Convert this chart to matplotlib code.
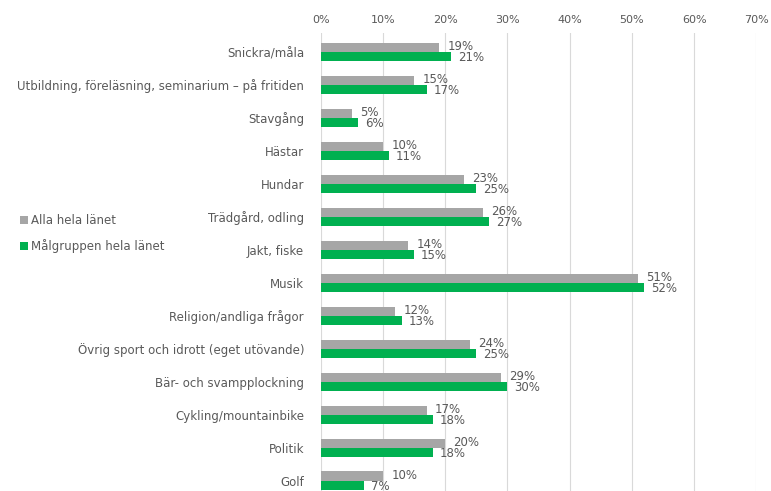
import matplotlib.pyplot as plt
import numpy as np

categories = ["Snickra/måla",
              "Utbildning, föreläsning, seminarium – på fritiden",
              "Stavgång", "Hästar", "Hundar", "Trädgård, odling",
              "Jakt, fiske", "Musik", "Religion/andliga frågor",
              "Övrig sport och idrott (eget utövande)",
              "Bär- och svampplockning", "Cykling/mountainbike",
              "Politik", "Golf"]
alla = [19, 15, 5, 10, 23, 26, 14, 51, 12, 24, 29, 17, 20, 10]
malgrupp = [21, 17, 6, 11, 25, 27, 15, 52, 13, 25, 30, 18, 18, 7]
xticks = [0, 10, 20, 30, 40, 50, 60, 70]

plt.rcParams['font.family'] = ['DejaVu Sans']
grey = '#a6a6a6'
green = '#00b050'
txt = '#595959'

fig = plt.figure(figsize=(7.71, 4.91), dpi=100)
ax = fig.add_axes([0.416, -0.018, 0.565, 0.951])

y = np.arange(len(categories))
h = 0.28
b1 = ax.barh(y - h/2, alla, height=h, color=grey, label='Alla hela länet', zorder=2)
b2 = ax.barh(y + h/2, malgrupp, height=h, color=green, label='Målgruppen hela länet', zorder=2)

for yi, v in zip(y, alla):
    ax.annotate("%d%%" % v, (v, yi - h/2), xytext=(6, 0.5), textcoords='offset points',
                ha='left', va='center', fontsize=8.5, color=txt)
for yi, v in zip(y, malgrupp):
    ax.annotate("%d%%" % v, (v, yi + h/2), xytext=(5, -0.5), textcoords='offset points',
                ha='left', va='center', fontsize=8.5, color=txt)

ax.set_xlim(0, 70)
ax.set_ylim(len(categories) - 0.42, -0.58)
ax.set_xticks(xticks)
ax.set_xticklabels(["%d%%" % t for t in xticks])
ax.xaxis.tick_top()
ax.set_yticks(y)
ax.set_yticklabels(categories)
ax.tick_params(axis='both', length=0, labelsize=8.5, labelcolor=txt)
ax.tick_params(axis='x', labelsize=8, pad=6)
ax.tick_params(axis='y', pad=12)
ax.grid(axis='x', color='#d9d9d9', linewidth=0.8, zorder=0)
for s in ax.spines.values():
    s.set_visible(False)

fig.legend(handles=[b1, b2], loc='upper left', bbox_to_anchor=(0.012, 0.585),
           frameon=False, handlelength=0.7, handleheight=0.7, handletextpad=0.2,
           labelspacing=1.0, fontsize=8.5, labelcolor=txt)

plt.savefig("out.png", dpi=100)
